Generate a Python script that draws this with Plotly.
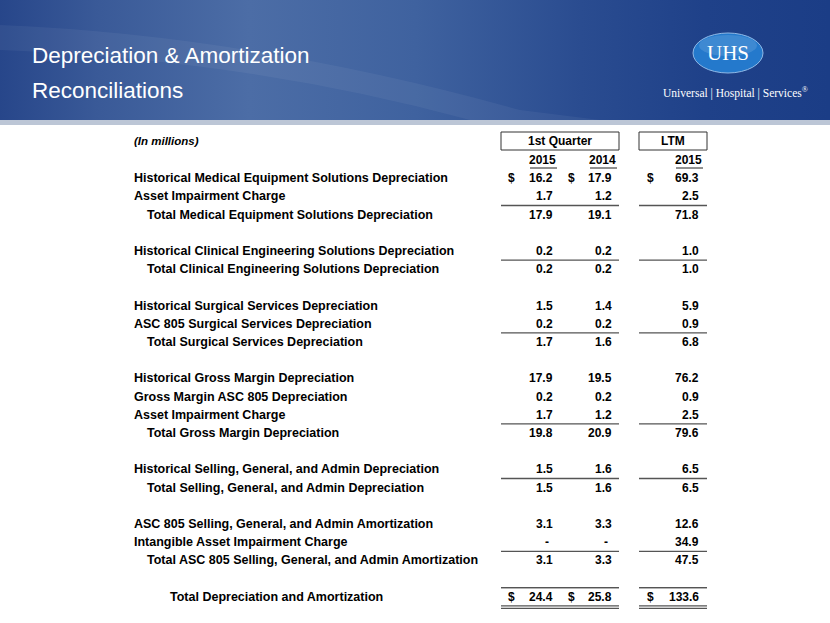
import plotly.graph_objects as go

# ---------------- data ----------------
labels = [
    "Historical Medical Equipment Solutions Depreciation",
    "Asset Impairment Charge",
    "Total Medical Equipment Solutions Depreciation",
    "",
    "Historical Clinical Engineering Solutions Depreciation",
    "Total Clinical Engineering Solutions Depreciation",
    "",
    "Historical Surgical Services Depreciation",
    "ASC 805 Surgical Services Depreciation",
    "Total Surgical Services Depreciation",
    "",
    "Historical Gross Margin Depreciation",
    "Gross Margin ASC 805 Depreciation",
    "Asset Impairment Charge",
    "Total Gross Margin Depreciation",
    "",
    "Historical Selling, General, and Admin Depreciation",
    "Total Selling, General, and Admin Depreciation",
    "",
    "ASC 805 Selling, General, and Admin Amortization",
    "Intangible Asset Impairment Charge",
    "Total ASC 805 Selling, General, and Admin Amortization",
    "",
    "Total Depreciation and Amortization",
]
indent = [0, 0, 1, 0, 0, 1, 0, 0, 0, 1, 0, 0, 0, 0, 1, 0, 0, 1, 0, 0, 0, 1, 0, 2]
q1_2015 = [16.2, 1.7, 17.9, None, 0.2, 0.2, None, 1.5, 0.2, 1.7, None, 17.9, 0.2, 1.7, 19.8, None,
           1.5, 1.5, None, 3.1, 0.0, 3.1, None, 24.4]
q1_2014 = [17.9, 1.2, 19.1, None, 0.2, 0.2, None, 1.4, 0.2, 1.6, None, 19.5, 0.2, 1.2, 20.9, None,
           1.6, 1.6, None, 3.3, 0.0, 3.3, None, 25.8]
ltm_2015 = [69.3, 2.5, 71.8, None, 1.0, 1.0, None, 5.9, 0.9, 6.8, None, 76.2, 0.9, 2.5, 79.6, None,
            6.5, 6.5, None, 12.6, 34.9, 47.5, None, 133.6]
dollar_rows = [0, 23]
rule_below_rows = [1, 4, 8, 13, 16, 20, 22]
double_rule_rows = [23]
group_headers = ["1st Quarter", "LTM"]
year_labels = ["2015", "2014", "2015"]
title_lines = ["Depreciation & Amortization", "Reconciliations"]

# ---------------- layout constants ----------------
W, H = 830, 623
ROW0 = 160.0
ROW_H = 18.2
LABEL_X = [132, 145, 168]
COL_RIGHT = [555, 614, 701]
YEAR_RIGHT = [558, 618, 704]
DOLLAR_X = [506, 566, 645]
GROUP_SPANS = [(501, 619), (639, 707)]
FONT = "Liberation Sans, Arial, sans-serif"
LABEL_SIZE = 12.5
NUM_SIZE = 12
RULE_COLOR = "#555555"


def row_y(i):
    return ROW0 + ROW_H * (i + 1)


fig = go.Figure()

# header gradient band
fig.add_trace(go.Scatter(
    x=[0, W, W, 0, 0], y=[0, 0, 120, 120, 0], mode="lines", fill="toself",
    line=dict(width=0), hoverinfo="skip", showlegend=False,
    fillgradient=dict(type="horizontal", colorscale=[
        [0.0, "#27468a"], [0.12, "#3a5a98"], [0.3, "#4c6da6"], [0.5, "#3f629f"],
        [0.7, "#2a4c90"], [0.85, "#1f4189"], [1.0, "#1b3d86"]]),
))

shapes = []
# soft light streak
shapes.append(dict(type="path", path="M 0 25 Q 250 35 520 110 L 600 120 L 470 120 Q 250 60 0 50 Z",
                   fillcolor="rgba(255,255,255,0.05)", line=dict(width=0), layer="above"))
# grey strip below header
shapes.append(dict(type="rect", x0=0, x1=W, y0=120, y1=125, fillcolor="#bcc6d6", line=dict(width=0)))

# logo ellipse
shapes.append(dict(type="circle", x0=693, x1=763, y0=33, y1=73, fillcolor="#2479cc",
                   line=dict(color="#8fb8e6", width=1)))
shapes.append(dict(type="circle", x0=699, x1=757, y0=35, y1=56, fillcolor="rgba(255,255,255,0.12)",
                   line=dict(width=0)))

# group header boxes
for (x0, x1) in GROUP_SPANS:
    shapes.append(dict(type="rect", x0=x0, x1=x1, y0=132, y1=150, line=dict(color="#333", width=1),
                       fillcolor="rgba(0,0,0,0)"))

# year underlines
for r in YEAR_RIGHT:
    shapes.append(dict(type="line", x0=r - 28, x1=r - 1, y0=168, y1=168, line=dict(color="#222", width=1)))

# rules
for i in rule_below_rows:
    y = row_y(i) + ROW_H / 2
    for (x0, x1) in GROUP_SPANS:
        shapes.append(dict(type="line", x0=x0, x1=x1, y0=y, y1=y, line=dict(color=RULE_COLOR, width=1.3)))
for i in double_rule_rows:
    ytop = row_y(i) - ROW_H / 2
    yb = row_y(i) + ROW_H / 2
    for (x0, x1) in GROUP_SPANS:
        shapes.append(dict(type="line", x0=x0, x1=x1, y0=ytop, y1=ytop, line=dict(color=RULE_COLOR, width=1.3)))
        shapes.append(dict(type="line", x0=x0, x1=x1, y0=yb, y1=yb, line=dict(color=RULE_COLOR, width=1.3)))
        shapes.append(dict(type="line", x0=x0, x1=x1, y0=yb + 2.5, y1=yb + 2.5, line=dict(color=RULE_COLOR, width=1.3)))

ann = []
# title
for k, t in enumerate(title_lines):
    ann.append(dict(x=30, y=55 + 35 * k, text=t, xanchor="left", yanchor="middle", showarrow=False,
                    font=dict(family="Liberation Sans, Arial, sans-serif", size=22.5, color="white")))
# logo text
ann.append(dict(x=728, y=53, text="UHS", showarrow=False, xanchor="center", yanchor="middle",
                font=dict(family="Liberation Serif, DejaVu Serif, serif", size=21, color="white")))
ann.append(dict(x=735, y=92, text="Universal | Hospital | Services<sup>®</sup>", showarrow=False,
                xanchor="center", yanchor="middle",
                font=dict(family="Liberation Serif, DejaVu Serif, serif", size=11.5, color="white")))

# (In millions)
ann.append(dict(x=132, y=141, text="<b><i>(In millions)</i></b>", showarrow=False, xanchor="left",
                yanchor="middle", font=dict(family=FONT, size=LABEL_SIZE - 1, color="black")))
# group headers
for (x0, x1), g in zip(GROUP_SPANS, group_headers):
    ann.append(dict(x=(x0 + x1) / 2, y=141, text="<b>%s</b>" % g, showarrow=False, xanchor="center",
                    yanchor="middle", font=dict(family=FONT, size=NUM_SIZE, color="black")))
# years
for r, yl in zip(YEAR_RIGHT, year_labels):
    ann.append(dict(x=r, y=ROW0, text="<b>%s</b>" % yl, showarrow=False, xanchor="right",
                    yanchor="middle", font=dict(family=FONT, size=NUM_SIZE, color="black")))

# rows
cols = [q1_2015, q1_2014, ltm_2015]
for i, lab in enumerate(labels):
    y = row_y(i)
    if lab:
        ann.append(dict(x=LABEL_X[indent[i]], y=y, text="<b>%s</b>" % lab, showarrow=False,
                        xanchor="left", yanchor="middle",
                        font=dict(family=FONT, size=LABEL_SIZE, color="black")))
    for c, col in enumerate(cols):
        v = col[i]
        if v is None:
            continue
        txt = "<b>-</b>" if v == 0 else "<b>%.1f</b>" % v
        xr = COL_RIGHT[c] - 4 if v == 0 else COL_RIGHT[c]
        ann.append(dict(x=xr, y=y, text=txt, showarrow=False, xanchor="right",
                        yanchor="middle", font=dict(family=FONT, size=NUM_SIZE, color="black")))
        if i in dollar_rows:
            ann.append(dict(x=DOLLAR_X[c], y=y, text="<b>$</b>", showarrow=False, xanchor="left",
                            yanchor="middle", font=dict(family=FONT, size=NUM_SIZE, color="black")))

fig.update_layout(
    width=W, height=H, margin=dict(l=0, r=0, t=0, b=0),
    paper_bgcolor="white", plot_bgcolor="white",
    xaxis=dict(range=[0, W], visible=False, fixedrange=True),
    yaxis=dict(range=[H, 0], visible=False, fixedrange=True),
    shapes=shapes, annotations=ann, showlegend=False,
)
fig.write_html("out.html", config={"displayModeBar": False},
               post_script="document.body.style.margin='0';document.body.style.overflow='hidden';")
